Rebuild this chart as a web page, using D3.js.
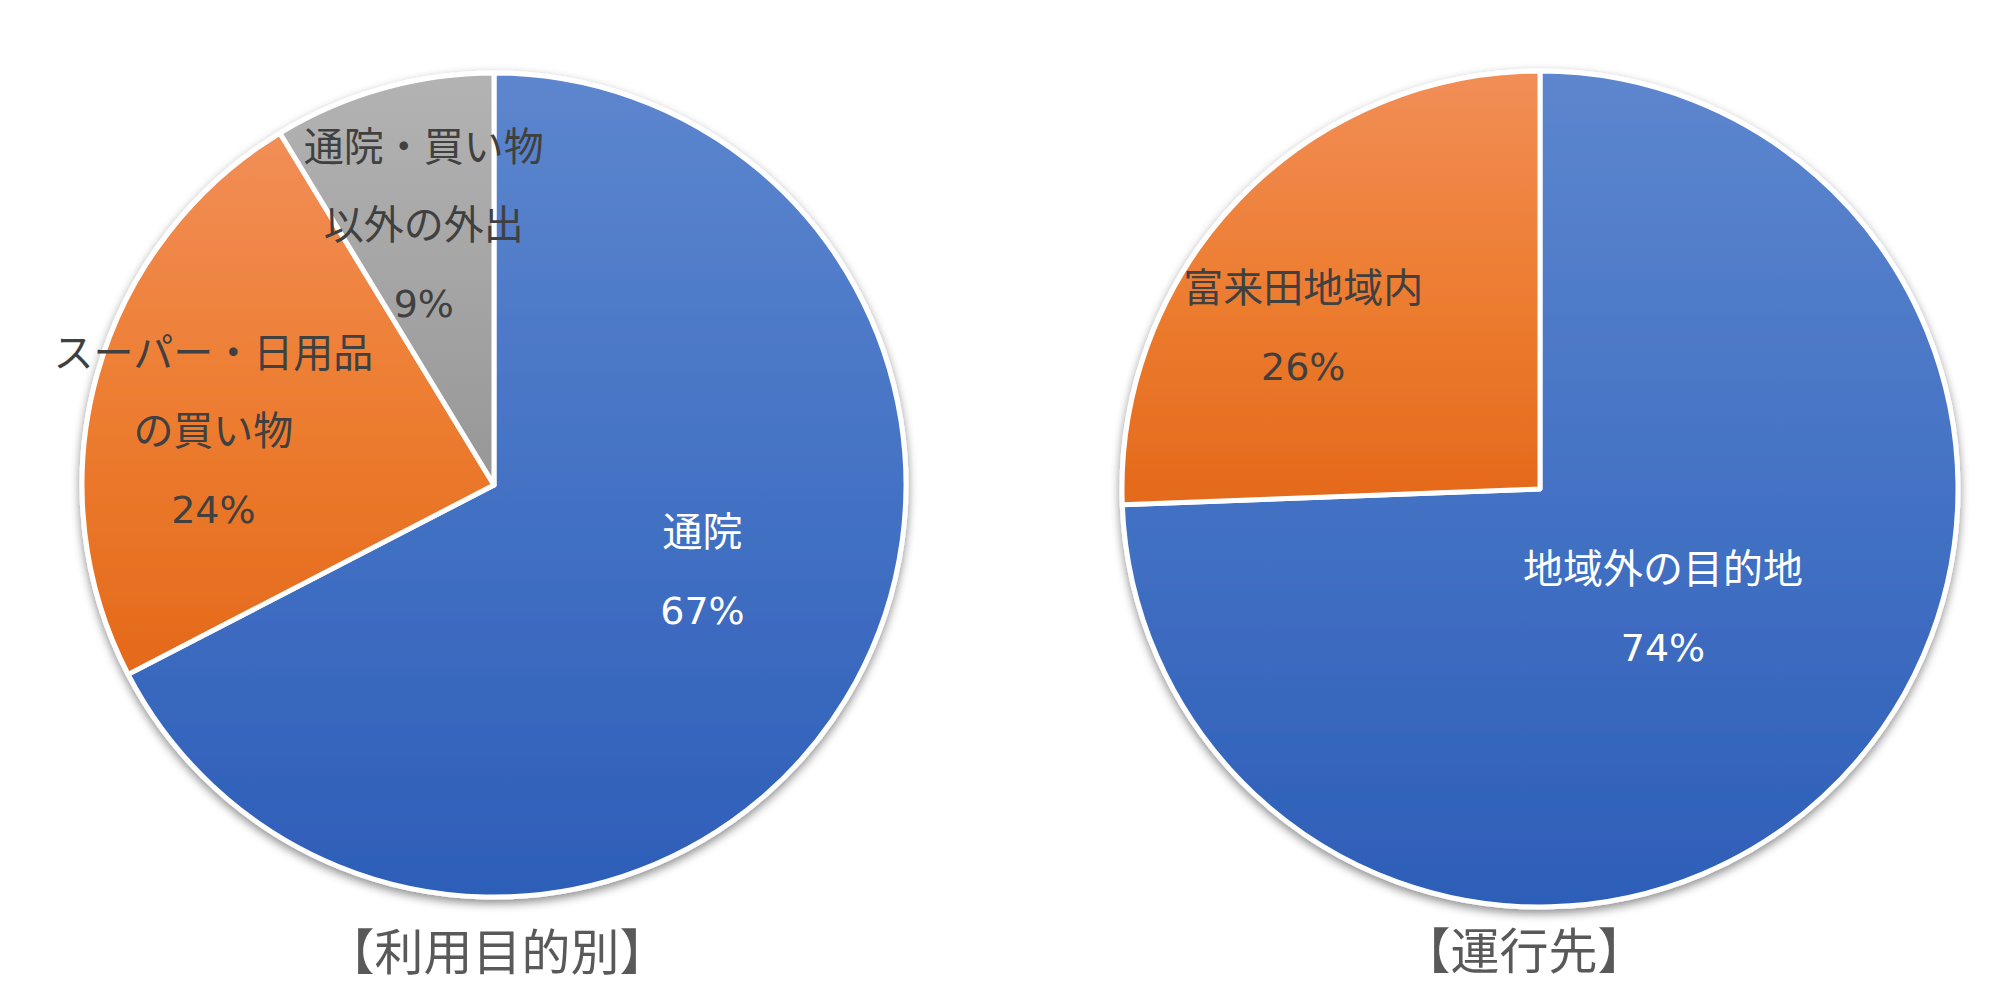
<!DOCTYPE html>
<html><head><meta charset="utf-8">
<script src="https://cdn.jsdelivr.net/npm/d3@7"></script>
<style>html,body{margin:0;padding:0;background:#fff;overflow:hidden}</style>
</head><body>
<svg id="c" width="2000" height="1005"></svg>
<script>
// ---- data ----
const purposeCategories = ["通院", "スーパー・日用品\nの買い物", "通院・買い物\n以外の外出"];
const purposeValues = [67.4, 23.9, 8.7];
const purposeTitle = "【利用目的別】";

const destCategories = ["地域外の目的地", "富来田地域内"];
const destValues = [74.4, 25.6];
const destTitle = "【運行先】";

const paletteTop = ["#5d86ce", "#f18e57", "#b3b3b3"];
const paletteMid = ["#4472c4", "#ed7d31", "#a5a5a5"];
const paletteBot = ["#2d5eb8", "#e4691a", "#979797"];
const labelFill = ["#ffffff", "#404040", "#404040"];

const svg = d3.select("#c");
const defs = svg.append("defs");
const f = defs.append("filter").attr("id","sh").attr("x","-10%").attr("y","-10%").attr("width","120%").attr("height","125%");
f.append("feDropShadow").attr("dx",0).attr("dy",4).attr("stdDeviation",5).attr("flood-color","#000").attr("flood-opacity",0.45);

paletteTop.forEach((c,i)=>{
  const g = defs.append("linearGradient").attr("id","g"+i).attr("x1",0).attr("y1",0).attr("x2",0).attr("y2",1);
  g.append("stop").attr("offset","0%").attr("stop-color",paletteTop[i]);
  g.append("stop").attr("offset","50%").attr("stop-color",paletteMid[i]);
  g.append("stop").attr("offset","100%").attr("stop-color",paletteBot[i]);
});

const cjk = "'Noto Sans CJK JP','Noto Sans',sans-serif";
const num = "'DejaVu Sans','Noto Sans CJK JP',sans-serif";

function drawPie(cfg){
  const pie = d3.pie().sort(null).value(d=>d.v).startAngle(0).endAngle(2*Math.PI);
  const data = cfg.cats.map((c,i)=>({c, v:cfg.vals[i], i}));
  const arcs = pie(data);
  const total = d3.sum(cfg.vals);
  const arc = d3.arc().innerRadius(0).outerRadius(cfg.r);
  const g = svg.append("g").attr("transform",`translate(${cfg.cx},${cfg.cy})`);
  const pg = g.append("g").attr("filter","url(#sh)");
  pg.selectAll("path").data(arcs).join("path")
    .attr("d", arc)
    .attr("fill", d=>`url(#g${d.data.i})`)
    .attr("stroke","#fff").attr("stroke-width",5).attr("stroke-linejoin","round");
  arcs.forEach((a,k)=>{
    const lay = cfg.labelLayout[k];
    const mid = (a.startAngle + a.endAngle)/2 + lay.da*Math.PI/180;
    const lr = cfg.r*lay.rf;
    const la = d3.arc().innerRadius(lr).outerRadius(lr).startAngle(mid).endAngle(mid);
    const [x,y] = la.centroid();
    const names = a.data.c.split("\n");
    const lines = names.map(s=>({s, pct:false})).concat([{s:Math.round(a.data.v/total*100)+"%", pct:true}]);
    const lh = 78;
    const t = g.append("text").attr("text-anchor","middle")
      .attr("font-size",40).attr("fill",labelFill[a.data.i]);
    lines.forEach((ln,j)=>{
      t.append("tspan").attr("x",x).attr("y", y + (j-(lines.length-1)/2)*lh + (ln.pct ? 4 : 0))
        .attr("font-family", ln.pct ? num : cjk)
        .attr("font-size", ln.pct ? 38 : 40)
        .attr("dominant-baseline","central").text(ln.s);
    });
  });
  svg.append("text").attr("x",cfg.tx).attr("y",cfg.ty).attr("text-anchor","middle")
    .attr("dominant-baseline","central")
    .attr("font-family",cjk)
    .attr("font-size",49).attr("fill","#595959").text(cfg.title);
}

drawPie({cats:purposeCategories, vals:purposeValues, title:purposeTitle,
  cx:494, cy:485, r:412, tx:497, ty:948,
  labelLayout:[{rf:0.545,da:-9.5},{rf:0.695,da:-4.2},{rf:0.66,da:0.7}]});
drawPie({cats:destCategories, vals:destValues, title:destTitle,
  cx:1540, cy:489, r:418, tx:1524, ty:947,
  labelLayout:[{rf:0.405,da:-0.5},{rf:0.69,da:-9.1}]});
</script>
</body></html>
